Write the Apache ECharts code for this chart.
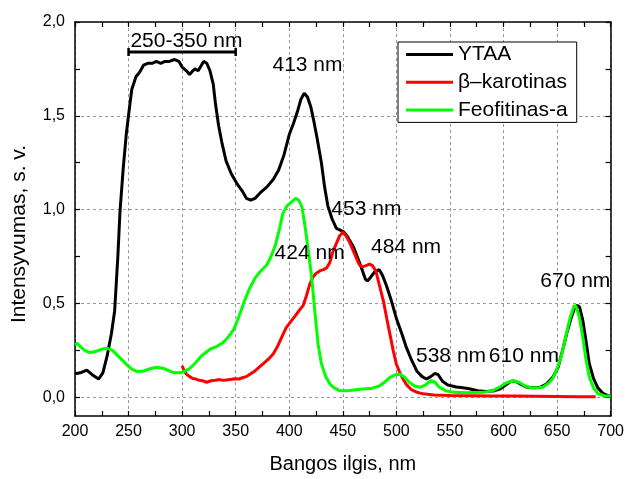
<!DOCTYPE html>
<html>
<head>
<meta charset="utf-8">
<script src="https://cdn.jsdelivr.net/npm/echarts@6/dist/echarts.min.js"></script>
<style>
html,body{margin:0;padding:0;background:#fff;}
#chart{width:627px;height:479px;}
</style>
</head>
<body>
<div id="chart"></div>
<script>
// ---- data ----
const seriesNames = ['YTAA', 'β–karotinas', 'Feofitinas-a'];

const ytaaX = [200,205,211,216,222,226,230,234,237,240,242,245,248,251,253,257,260,264,268,272,276,280,284,288,293,297,300,304,307,310,312,315,318,320,323,326,329,331,334,337,341,346,351,356,360,364,368,373,379,385,390,395,400,404,408,411,414,417,420,423,426,430,433,436,440,444,448,451,454,457,460,464,468,471,473,476,480,484,487,491,495,500,505,509,514,519,524,528,532,536,539,543,548,556,562,568,576,584,592,597,602,607,611,616,621,628,634,640,646,651,655,659,663,666,669,671,674,677,680,684,688,693,699];
const ytaaY = [0.125,0.13,0.145,0.12,0.097,0.13,0.22,0.34,0.46,0.75,0.99,1.22,1.41,1.55,1.64,1.71,1.73,1.77,1.78,1.78,1.79,1.78,1.79,1.79,1.80,1.79,1.76,1.74,1.72,1.74,1.75,1.74,1.77,1.79,1.78,1.74,1.67,1.57,1.45,1.36,1.26,1.19,1.14,1.10,1.06,1.05,1.06,1.09,1.12,1.16,1.21,1.29,1.40,1.46,1.53,1.59,1.62,1.60,1.55,1.47,1.38,1.25,1.12,1.02,0.95,0.90,0.89,0.88,0.86,0.83,0.80,0.74,0.68,0.63,0.62,0.64,0.67,0.68,0.65,0.59,0.52,0.42,0.34,0.27,0.20,0.14,0.11,0.097,0.11,0.127,0.12,0.085,0.065,0.055,0.05,0.045,0.035,0.03,0.035,0.045,0.065,0.085,0.085,0.07,0.055,0.05,0.053,0.07,0.106,0.16,0.247,0.34,0.42,0.47,0.49,0.48,0.41,0.30,0.18,0.10,0.05,0.02,0.005];

const karotX = [300,302,304,307,310,313,316,319,323,327,331,335,338,341,345,349,353,357,360,364,368,372,376,380,385,389,393,397,401,405,409,413,416,419,422,425,429,432,435,438,441,444,447,450,453,456,459,462,465,468,471,475,478,481,484,488,491,494,497,500,504,509,514,520,525,535,550,570,590,610,630,650,670,686];
const karotY = [0.168,0.14,0.123,0.11,0.10,0.097,0.09,0.088,0.08,0.088,0.09,0.094,0.09,0.092,0.095,0.098,0.097,0.105,0.11,0.125,0.14,0.16,0.18,0.20,0.23,0.27,0.32,0.37,0.40,0.43,0.46,0.49,0.54,0.60,0.64,0.66,0.675,0.68,0.69,0.72,0.78,0.82,0.86,0.88,0.86,0.83,0.79,0.75,0.71,0.695,0.70,0.71,0.70,0.67,0.60,0.51,0.42,0.335,0.25,0.176,0.12,0.07,0.04,0.025,0.018,0.012,0.009,0.008,0.006,0.006,0.005,0.004,0.003,0.002];

const feofX = [200,202,205,209,214,220,226,230,235,242,248,253,258,264,270,276,282,288,293,298,303,307,312,318,326,332,338,343,348,353,358,363,368,373,379,383,387,391,394,398,402,406,409,412,415,418,421,424,427,430,434,438,442,447,455,462,468,476,484,489,494,499,503,507,512,517,522,527,532,536,540,546,553,565,581,590,596,602,609,615,620,626,632,637,642,646,650,654,658,662,666,668,671,674,677,680,684,688,694,700];
const feofY = [0.28,0.287,0.27,0.25,0.238,0.245,0.258,0.26,0.25,0.21,0.175,0.15,0.137,0.14,0.152,0.16,0.155,0.14,0.13,0.13,0.14,0.153,0.18,0.22,0.256,0.27,0.29,0.32,0.36,0.43,0.51,0.58,0.635,0.67,0.705,0.75,0.81,0.90,0.98,1.02,1.04,1.06,1.05,1.01,0.90,0.77,0.635,0.45,0.28,0.18,0.11,0.07,0.05,0.035,0.035,0.04,0.044,0.046,0.06,0.08,0.106,0.12,0.123,0.11,0.08,0.06,0.053,0.065,0.088,0.08,0.053,0.035,0.026,0.024,0.026,0.035,0.053,0.075,0.088,0.078,0.06,0.05,0.05,0.055,0.075,0.10,0.15,0.22,0.32,0.42,0.49,0.48,0.42,0.32,0.20,0.11,0.05,0.02,0.008,0.005];

const rangeBracketX = [250, 350];
const rangeBracketY = 1.84;

const annotationTexts = ['250-350 nm','413 nm','453 nm','424 nm','484 nm','538 nm','610 nm','670 nm'];
const annotationX = [304, 417, 472, 419, 509, 551, 619, 667];
const annotationY = [1.90, 1.77, 1.00, 0.77, 0.80, 0.22, 0.22, 0.62];

const xTickLabels = [200,250,300,350,400,450,500,550,600,650,700];
const yTickLabels = [0, 0.5, 1.0, 1.5, 2.0];
const yMinorTicks = [0,0.25,0.5,0.75,1.0,1.25,1.5,1.75,2.0];
const yGridValues = [0, 0.5, 1.0, 1.5];

// ---- chart ----
const zip = (xs, ys) => xs.map((x, i) => [x, ys[i]]);
const FONT = '"Liberation Sans", Arial, sans-serif';
const chart = echarts.init(document.getElementById('chart'), null, {renderer: 'canvas'});

const axisLineStyle = {color: '#000', width: 1.5};
const baseX = {
  type: 'value', min: 200, max: 700, interval: 50,
  axisLine: {show: true, onZero: false, lineStyle: axisLineStyle},
  axisTick: {show: true, inside: true, length: 5, lineStyle: {color: '#000', width: 1.2}},
  minorTick: {show: true, splitNumber: 2, length: 5, lineStyle: {color: '#000', width: 1.2}},
};
const baseY = {
  type: 'value', min: -0.1, max: 2.0,
  axisLine: {show: true, onZero: false, lineStyle: axisLineStyle},
  axisTick: {show: true, inside: true, length: 5, customValues: yMinorTicks, lineStyle: {color: '#000', width: 1.2}},
  splitLine: {show: false},
};

const option = {
  backgroundColor: '#fff',
  animation: false,
  textStyle: {fontFamily: FONT},
  grid: {left: 75, right: 16, top: 22, bottom: 60, containLabel: false},
  legend: {
    data: seriesNames.map(n => ({name: n, icon: 'rect'})),
    orient: 'vertical',
    left: 398, top: 42,
    itemWidth: 47, itemHeight: 3,
    itemGap: 6.7,
    padding: [2, 9, 2, 8],
    borderColor: '#000', borderWidth: 1,
    backgroundColor: '#fff',
    textStyle: {fontSize: 21, color: '#000', fontFamily: FONT, lineHeight: 21},
  },
  xAxis: [
    Object.assign({}, baseX, {
      position: 'bottom',
      name: 'Bangos ilgis, nm', nameLocation: 'middle', nameGap: 38,
      nameTextStyle: {fontSize: 20, color: '#000', fontFamily: FONT},
      axisLabel: {show: true, margin: 8, fontSize: 16, color: '#000', fontFamily: FONT,
        customValues: xTickLabels},
      splitLine: {show: true, lineStyle: {color: '#999', type: [3, 3], width: 1}},
    }),
    Object.assign({}, baseX, {
      position: 'top',
      axisLabel: {show: false},
      splitLine: {show: false},
    }),
  ],
  yAxis: [
    Object.assign({}, baseY, {
      position: 'left',
      name: 'Intensyvumas, s. v.', nameLocation: 'middle', nameGap: 45, nameRotate: 90,
      nameTextStyle: {fontSize: 21, color: '#000', fontFamily: FONT, padding: [0, 30, 0, 0]},
      axisLabel: {show: true, margin: 10, fontSize: 16, color: '#000', fontFamily: FONT,
        customValues: yTickLabels,
        formatter: v => v.toFixed(1).replace('.', ',')},
    }),
    Object.assign({}, baseY, {
      position: 'right',
      axisLabel: {show: false},
    }),
    {
      type: 'value', min: -0.1, max: 2.0, position: 'left',
      axisLine: {show: false},
      axisTick: {show: false, customValues: yGridValues},
      axisLabel: {show: false},
      splitLine: {show: true, lineStyle: {color: '#999', type: [3, 3], width: 1}},
    },
  ],
  series: [
    {
      name: seriesNames[1], type: 'line', xAxisIndex: 0, yAxisIndex: 0,
      data: zip(karotX, karotY), showSymbol: false, symbol: 'none',
      lineStyle: {color: '#ff0000', width: 3}, itemStyle: {color: '#ff0000'}, z: 3,
    },
    {
      name: seriesNames[2], type: 'line', xAxisIndex: 0, yAxisIndex: 0,
      data: zip(feofX, feofY), showSymbol: false, symbol: 'none',
      lineStyle: {color: '#00ff00', width: 3}, itemStyle: {color: '#00ff00'}, z: 4,
    },
    {
      name: seriesNames[0], type: 'line', xAxisIndex: 0, yAxisIndex: 0,
      data: zip(ytaaX, ytaaY), showSymbol: false, symbol: 'none',
      lineStyle: {color: '#000', width: 3}, itemStyle: {color: '#000'}, z: 2,
    },
    {
      name: 'bracket', type: 'line', xAxisIndex: 0, yAxisIndex: 0,
      data: rangeBracketX.map(x => [x, rangeBracketY]),
      symbol: 'rect', symbolSize: [2.5, 8], showSymbol: true,
      lineStyle: {color: '#000', width: 3}, itemStyle: {color: '#000'},
      z: 5, silent: true,
    },
    {
      name: 'annotations', type: 'scatter', xAxisIndex: 0, yAxisIndex: 0,
      data: annotationTexts.map((t, i) => [annotationX[i], annotationY[i], t]),
      symbol: 'circle', symbolSize: 2, itemStyle: {color: 'rgba(0,0,0,0)', opacity: 1},
      label: {show: true, position: 'inside', formatter: p => p.data[2],
        fontSize: 21, color: '#000', opacity: 1, textBorderWidth: 0, fontFamily: FONT},
      labelLayout: {hideOverlap: false},
      z: 6, silent: true,
    },
  ],
};
chart.setOption(option);
</script>
</body>
</html>
